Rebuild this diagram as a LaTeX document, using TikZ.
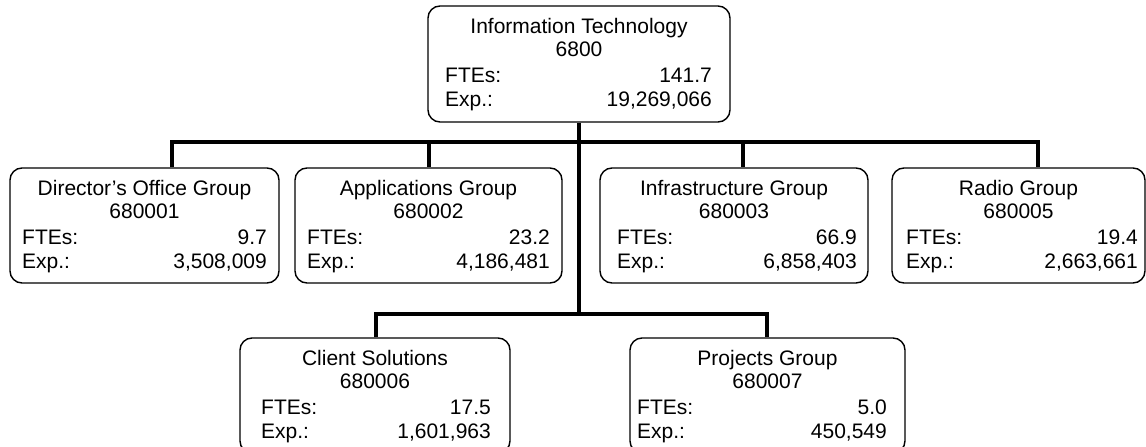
\documentclass[tikz,border=0pt]{standalone}
\usepackage{fontspec}
\setmainfont{Liberation Sans}
\tikzset{
  unitbox/.style={draw, rounded corners=12pt, line width=1.4pt, inner sep=0pt},
  txt/.style={inner sep=0pt, anchor=base, font=\fontsize{21}{24}\selectfont},
  conn/.style={draw, line width=4pt, line join=miter}
}
\newcommand\lp{12}
\newcommand\rp{12}
\newcommand\orgunit[9]{%
  \node[unitbox, minimum width={(#4-#2)*1pt}, minimum height={(#5-#3)*1pt}] (#1) at ({(#2+#4)/2},{(#3+#5)/2}) {};
  \node[txt] (#1-t) at ({(#2+#4)/2},{#3+27}) {#6};
  \node[txt] (#1-c) at ({(#2+#4)/2},{#3+50}) {#7};
  \node[txt, anchor=base west] (#1-fl) at ({#2+\lp},{#3+76}) {FTEs:};
  \node[txt, anchor=base east] (#1-fv) at ({#4-\rp},{#3+76}) {#8};
  \node[txt, anchor=base west] (#1-el) at ({#2+\lp},{#3+100}) {Exp.:};
  \node[txt, anchor=base east] (#1-ev) at ({#4-\rp},{#3+100}) {#9};
}
\begin{document}
\begin{tikzpicture}[x=1pt, y=-1pt]
\useasboundingbox (0,0) rectangle (1146,447);
\clip (0,0) rectangle (1146,447);
\fill[white] (0,0) rectangle (1146,447);

\renewcommand\lp{17}\renewcommand\rp{18}
\orgunit{it}{428}{6}{730}{122}{Information Technology}{6800}{141.7}{19,269,066}
\renewcommand\lp{12}\renewcommand\rp{12}
\orgunit{dog}{10}{168}{279}{283}{Director’s Office Group}{680001}{9.7}{3,508,009}
\renewcommand\lp{12}\renewcommand\rp{12}
\orgunit{ag}{295}{168}{562}{283}{Applications Group}{680002}{23.2}{4,186,481}
\renewcommand\lp{17}\renewcommand\rp{11}
\orgunit{ig}{600}{168}{868}{283}{Infrastructure Group}{680003}{66.9}{6,858,403}
\renewcommand\lp{14}\renewcommand\rp{7}
\orgunit{rg}{892}{168}{1145}{283}{Radio Group}{680005}{19.4}{2,663,661}
\renewcommand\lp{21}\renewcommand\rp{19}
\orgunit{cs}{240}{338}{510}{453}{Client Solutions}{680006}{17.5}{1,601,963}
\renewcommand\lp{7}\renewcommand\rp{18}
\orgunit{pg}{630}{338}{905}{453}{Projects Group}{680007}{5.0}{450,549}

\coordinate (b2) at (580,314);
\coordinate (d1) at (172,142);
\coordinate (d2) at (429,142);
\coordinate (d3) at (743,142);
\coordinate (d4) at (1038,142);
\coordinate (e1) at (376,314);
\coordinate (e2) at (767,314);

\draw[conn] (it.south) -- (it.south |- b2);
\draw[conn] (d1 |- dog.north) -- (d1) -- (d4) -- (d4 |- rg.north);
\draw[conn] (d2) -- (d2 |- ag.north);
\draw[conn] (d3) -- (d3 |- ig.north);
\draw[conn] (e1 |- cs.north) -- (e1) -- (e2) -- (e2 |- pg.north);
\end{tikzpicture}
\end{document}
